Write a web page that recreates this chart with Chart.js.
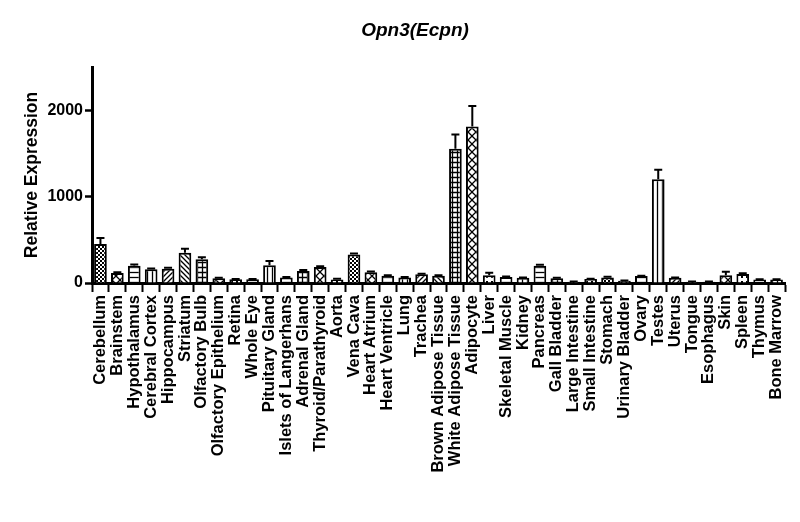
<!DOCTYPE html>
<html>
<head>
<meta charset="utf-8">
<script src="https://cdn.jsdelivr.net/npm/chart.js@4.4.0/dist/chart.umd.min.js"></script>
<style>
  body { margin: 0; background: #fff; }
</style>
</head>
<body>
<canvas id="chart" width="800" height="522"></canvas>
<script>
// Tissues along the x axis
const tissues = [
    "Cerebellum", "Brainstem", "Hypothalamus", "Cerebral Cortex", "Hippocampus",
    "Striatum", "Olfactory Bulb", "Olfactory Epithelium", "Retina", "Whole Eye",
    "Pituitary Gland", "Islets of Langerhans", "Adrenal Gland", "Thyroid/Parathyroid", "Aorta",
    "Vena Cava", "Heart Atrium", "Heart Ventricle", "Lung", "Trachea",
    "Brown Adipose Tissue", "White Adipose Tissue", "Adipocyte", "Liver", "Skeletal Muscle",
    "Kidney", "Pancreas", "Gall Bladder", "Large Intestine", "Small Intestine",
    "Stomach", "Urinary Bladder", "Ovary", "Testes", "Uterus",
    "Tongue", "Esophagus", "Skin", "Spleen", "Thymus", "Bone Marrow"
];

// Mean relative expression
const expression = [
    450, 115, 200, 160, 165,
    350, 275, 55, 42, 42,
    205, 65, 140, 185, 40,
    330, 125, 85, 65, 100,
    85, 1555, 1810, 90, 70,
    60, 200, 55, 15, 45,
    65, 25, 80, 1200, 60,
    15, 15, 90, 105, 40, 40
];

// Upper error (SEM)
const sem = [
    70, 10, 15, 8, 12,
    45, 22, 5, 4, 4,
    50, 5, 10, 10, 8,
    12, 8, 5, 5, 8,
    5, 165, 240, 28, 6,
    5, 10, 5, 2, 4,
    6, 3, 5, 110, 5,
    2, 2, 40, 8, 4, 4
];

const yTicks = [0, 1000, 2000];
const chartTitle = "Opn3(Ecpn)";

// fill pattern cycle (prism style)
const patternCycle = ["checker", "cross", "horiz", "vert", "slash", "backslash", "grid",
    "diagcross", "dots", "horiz", "vert", "horiz", "grid", "cross", "dots"];

function makePattern(type) {
    const size = (type === "cross" || type === "diagcross") ? 8 : (type === "checker" ? 4 : 5);
    const c = document.createElement("canvas");
    c.width = size; c.height = size;
    const g = c.getContext("2d");
    g.fillStyle = "#fff";
    g.fillRect(0, 0, size, size);
    g.fillStyle = "#000";
    g.strokeStyle = "#000";
    g.lineWidth = 1.3;
    g.beginPath();
    switch (type) {
        case "checker":
            g.fillRect(0, 0, 2, 2);
            g.fillRect(2, 2, 2, 2);
            break;
        case "horiz":
            g.moveTo(0, 2.5); g.lineTo(size, 2.5);
            break;
        case "vert":
            g.moveTo(2.5, 0); g.lineTo(2.5, size);
            break;
        case "grid":
            g.moveTo(0, 2.5); g.lineTo(size, 2.5);
            g.moveTo(2.5, 0); g.lineTo(2.5, size);
            break;
        case "slash":
            g.moveTo(0, size); g.lineTo(size, 0);
            g.moveTo(-1, 1); g.lineTo(1, -1);
            g.moveTo(size - 1, size + 1); g.lineTo(size + 1, size - 1);
            break;
        case "backslash":
            g.moveTo(0, 0); g.lineTo(size, size);
            g.moveTo(size - 1, -1); g.lineTo(size + 1, 1);
            g.moveTo(-1, size - 1); g.lineTo(1, size + 1);
            break;
        case "cross":
        case "diagcross":
            g.moveTo(0, 0); g.lineTo(size, size);
            g.moveTo(0, size); g.lineTo(size, 0);
            break;
        case "dots":
            g.fillRect(1, 1, 2, 2);
            break;
    }
    g.stroke();
    return g.createPattern(c, "repeat");
}

// draws the upward error bars from the data through the y scale
const errorBars = {
    id: "errorBars",
    afterDatasetsDraw(chart) {
        const ctx = chart.ctx;
        const y = chart.scales.y;
        const meta = chart.getDatasetMeta(0);
        ctx.save();
        ctx.strokeStyle = "#000";
        ctx.lineWidth = 2;
        meta.data.forEach((bar, i) => {
            const top = y.getPixelForValue(expression[i] + sem[i]);
            ctx.beginPath();
            ctx.moveTo(bar.x, bar.y);
            ctx.lineTo(bar.x, top);
            ctx.moveTo(bar.x - 4, top);
            ctx.lineTo(bar.x + 4, top);
            ctx.stroke();
        });
        ctx.restore();
    }
};

// title sits a bit left of the plot centre, like the original
const titleText = {
    id: "titleText",
    afterDraw(chart) {
        const ctx = chart.ctx;
        ctx.save();
        ctx.fillStyle = "#000";
        ctx.font = "italic bold 19px 'Liberation Sans', Arial";
        ctx.textAlign = "center";
        ctx.textBaseline = "middle";
        ctx.fillText(chartTitle, 415, 31);
        ctx.restore();
    }
};

const ctx = document.getElementById("chart").getContext("2d");

new Chart(ctx, {
    type: "bar",
    data: {
        labels: tissues,
        datasets: [{
            data: expression,
            backgroundColor: tissues.map((t, i) => makePattern(patternCycle[i % patternCycle.length])),
            borderColor: "#000",
            borderWidth: 2,
            borderSkipped: "bottom",
            barPercentage: 0.75,
            categoryPercentage: 1
        }]
    },
    options: {
        responsive: false,
        animation: false,
        layout: { padding: { left: 0, right: 15, top: 67, bottom: 0 } },
        plugins: {
            legend: { display: false },
            tooltip: { enabled: false },
            title: { display: false }
        },
        scales: {
            x: {
                afterFit: scale => { scale.height = 239; },
                grid: { display: true, drawOnChartArea: false, drawTicks: true, tickLength: 9, tickWidth: 2, tickColor: "#000" },
                border: { display: true, color: "#000", width: 3 },
                ticks: {
                    color: "#000",
                    autoSkip: false,
                    maxRotation: 90,
                    minRotation: 90,
                    padding: 3,
                    font: { family: "Liberation Sans, Arial", size: 16.5, weight: "bold" }
                }
            },
            y: {
                min: 0,
                max: 2500,
                afterFit: scale => { scale.width = 92; },
                afterBuildTicks: scale => { scale.ticks = yTicks.map(v => ({ value: v })); },
                grid: { display: true, drawOnChartArea: false, drawTicks: true, tickLength: 7, tickWidth: 2.5, tickColor: "#000" },
                border: { display: true, color: "#000", width: 3 },
                ticks: {
                    color: "#000",
                    padding: 2,
                    callback: v => String(v),
                    font: { family: "Liberation Sans, Arial", size: 16, weight: "bold" }
                },
                title: {
                    display: true,
                    text: "Relative Expression",
                    color: "#000",
                    padding: { top: 22, bottom: 0 },
                    font: { family: "Liberation Sans, Arial", size: 17.5, weight: "bold" }
                }
            }
        }
    },
    plugins: [errorBars, titleText]
});
</script>
</body>
</html>
